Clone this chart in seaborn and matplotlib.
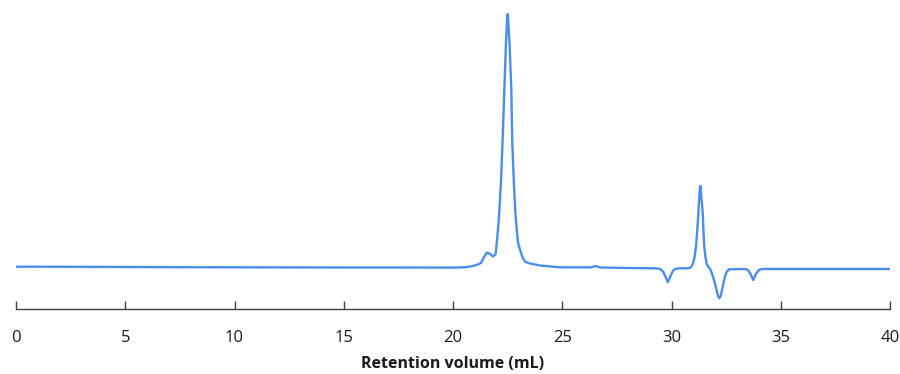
import pandas as pd
import matplotlib.pyplot as plt
import seaborn as sns

# ==========================
# Datos leídos del cromatograma
# ==========================
volumen_ml = [
    0.0, 2.5, 5.0, 7.5, 10.0, 12.5, 15.0, 17.5, 20.0, 20.5, 20.8,
    21.08, 21.28, 21.42, 21.54, 21.67, 21.84, 21.95, 22.03, 22.11, 22.20,
    22.27, 22.35, 22.42, 22.46, 22.48, 22.50, 22.52, 22.54, 22.59, 22.67,
    22.71, 22.78, 22.86, 22.92, 22.97, 23.07, 23.18, 23.30, 23.52, 23.98,
    24.90, 26.30, 26.53, 26.75, 28.0, 29.24, 29.47, 29.61, 29.73, 29.83,
    29.93, 30.05, 30.16, 30.39, 30.66, 30.85, 30.96, 31.05, 31.12, 31.18,
    31.23, 31.27, 31.30, 31.32, 31.34, 31.36, 31.43, 31.46, 31.50, 31.56,
    31.62, 31.72, 31.81, 31.92, 32.04, 32.13, 32.19, 32.25, 32.33, 32.43,
    32.52, 32.63, 33.36, 33.50, 33.62, 33.74, 33.86, 34.00, 34.14, 37.0,
    40.0,
]

senal = [
    0.3, 0.2, 0.0, -0.2, -0.3, -0.4, -0.5, -0.5, -0.6, -0.3, 0.5,
    2.0, 4.0, 10.0, 14.3, 13.5, 10.5, 13.0, 30.0, 52.0, 87.0,
    127.0, 177.0, 222.0, 241.0, 249.0, 253.0, 249.0, 241.0, 222.0, 177.0,
    127.0, 87.0, 52.0, 37.0, 25.0, 17.0, 10.0, 5.3, 3.5, 1.5,
    -0.3, -0.4, 1.0, -0.5, -1.0, -1.3, -1.8, -4.5, -10.0, -15.3,
    -10.0, -4.5, -2.0, -1.3, -1.3, -1.0, 2.0, 9.0, 20.3, 37.0,
    54.0, 71.0, 79.0, 81.0, 79.0, 71.0, 54.0, 37.0, 20.3, 9.0,
    2.5, -0.5, -4.0, -11.0, -21.0, -29.0, -31.3, -29.0, -21.0, -11.0,
    -5.0, -2.3, -2.0, -3.0, -7.0, -13.0, -7.0, -3.0, -2.0, -2.0,
    -2.0,
]

ticks_x = [0, 5, 10, 15, 20, 25, 30, 35, 40]

df = pd.DataFrame({'volumen': volumen_ml, 'senal': senal})

# ==========================
# Gráfico
# ==========================
sns.set_style('white')
plt.rcParams['font.family'] = ['Open Sans', 'DejaVu Sans']

fig = plt.figure(figsize=(9, 3.74), dpi=100)
ax = fig.add_axes([16 / 900, 65 / 374, 874 / 900, 304 / 374])

sns.lineplot(
    data=df,
    x='volumen',
    y='senal',
    color='#4a8eea',
    linewidth=1.7,
    ax=ax
)

ax.set_xlim(0, 40)
ax.set_ylim(-42, 262)
ax.set_xticks(ticks_x)
ax.set_yticks([])

ax.tick_params(
    axis='x',
    bottom=True,
    direction='in',
    length=6,
    width=1,
    color='#404040',
    pad=15,
    labelsize=12,
    labelcolor='#1a1a1a'
)

for lado in ['top', 'right', 'left']:
    ax.spines[lado].set_visible(False)
ax.spines['bottom'].set_color('#404040')
ax.spines['bottom'].set_linewidth(1)

ax.set_xlabel('Retention volume (mL)', fontsize=11.5, fontweight='bold',
              color='#1a1a1a', labelpad=7)
ax.set_ylabel('')

fig.savefig('out.png', dpi=100)
